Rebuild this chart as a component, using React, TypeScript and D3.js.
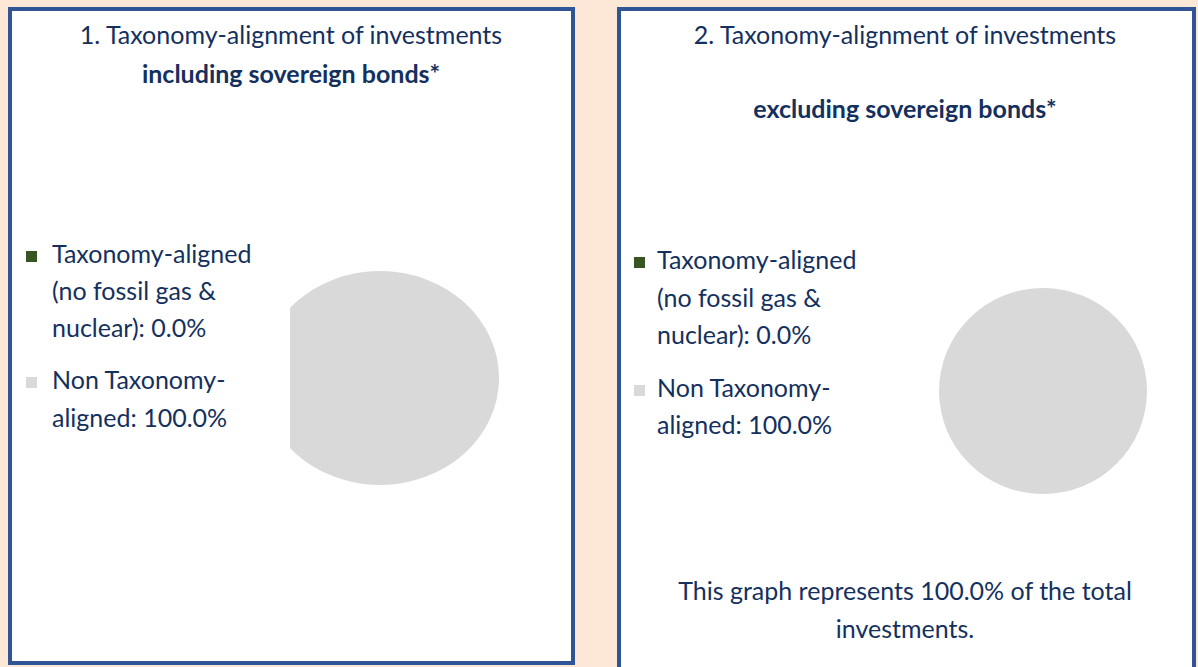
import React from "react";
import * as d3 from "d3";

const categories = ["Taxonomy-aligned (no fossil gas & nuclear)", "Non Taxonomy-aligned"];
const valuesIncl = [0.0, 100.0];
const valuesExcl = [0.0, 100.0];
const legendLines1 = [["Taxonomy-aligned", "(no fossil gas &", "nuclear): 0.0%"], ["Non Taxonomy-", "aligned: 100.0%"]];
const legendLines2 = [["Taxonomy-aligned", "(no fossil gas &", "nuclear): 0.0%"], ["Non Taxonomy-", "aligned: 100.0%"]];
const colors = ["#375623", "#d9d9d9"];
const titles1 = ["1. Taxonomy-alignment of investments", "including sovereign bonds*"];
const titles2 = ["2. Taxonomy-alignment of investments", "excluding sovereign bonds*"];
const footer2 = ["This graph represents 100.0% of the total", "investments."];

const W = 1198, H = 667;
const FONT = "Lato, 'Open Sans', sans-serif";
const FS = 25;
const TEXT = "#14305e";
const BORDER = "#2f5597";
const BG = "#fde8d8";

function Pie({ values, cx, cy, rx, ry, clipId }: any) {
  const pie = d3.pie<number>().sort(null).value((d) => d)(values);
  const arc = d3.arc<d3.PieArcDatum<number>>().innerRadius(0).outerRadius(ry);
  return (
    <g clipPath={clipId ? `url(#${clipId})` : undefined}>
      <g transform={`translate(${cx},${cy}) scale(${rx / ry},1)`}>
        {pie.map((p, i) => (p.endAngle - p.startAngle > 0 ? <path key={i} d={arc(p) || ""} fill={colors[i]} /> : null))}
      </g>
    </g>
  );
}

function Legend({ lines, x, sqX, baselines }: any) {
  return (
    <g>
      {lines.map((grp: string[], i: number) => (
        <g key={i}>
          <rect x={sqX} y={baselines[i][0] - 12} width={11} height={11} fill={colors[i]} />
          {grp.map((t, j) => (
            <text key={j} x={x} y={baselines[i][j]} fontSize={FS} fontFamily={FONT} fill={TEXT}>{t}</text>
          ))}
        </g>
      ))}
    </g>
  );
}

export default function App() {
  return (
    <svg width={W} height={H} style={{ position: "absolute", left: 0, top: 0 }}>
      <defs>
        <clipPath id="clipL">
          <rect x={290} y={0} width={300} height={H} />
        </clipPath>
      </defs>
      <rect x={0} y={0} width={W} height={H} fill={BG} />
      <rect x={10} y={9} width={563} height={654} fill="#fff" stroke={BORDER} strokeWidth={4} />
      <rect x={619} y={9} width={575} height={700} fill="#fff" stroke={BORDER} strokeWidth={4} />

      <text x={291} y={44} textAnchor="middle" fontSize={FS} fontFamily={FONT} fill={TEXT}>{titles1[0]}</text>
      <text x={291} y={83} textAnchor="middle" fontSize={FS} fontWeight="bold" fontFamily={FONT} fill={TEXT}>{titles1[1]}</text>
      <Legend lines={legendLines1} x={52} sqX={26} baselines={[[263, 300, 337], [389, 427]]} />
      <Pie values={valuesIncl} cx={380} cy={378} rx={119} ry={107} clipId="clipL" />

      <text x={905} y={44} textAnchor="middle" fontSize={FS} fontFamily={FONT} fill={TEXT}>{titles2[0]}</text>
      <text x={905} y={118} textAnchor="middle" fontSize={FS} fontWeight="bold" fontFamily={FONT} fill={TEXT}>{titles2[1]}</text>
      <Legend lines={legendLines2} x={657} sqX={634} baselines={[[269, 307, 344], [397, 434]]} />
      <Pie values={valuesExcl} cx={1043} cy={391} rx={104} ry={103} />

      <text x={905} y={600} textAnchor="middle" fontSize={FS} fontFamily={FONT} fill={TEXT}>{footer2[0]}</text>
      <text x={905} y={638} textAnchor="middle" fontSize={FS} fontFamily={FONT} fill={TEXT}>{footer2[1]}</text>
    </svg>
  );
}
